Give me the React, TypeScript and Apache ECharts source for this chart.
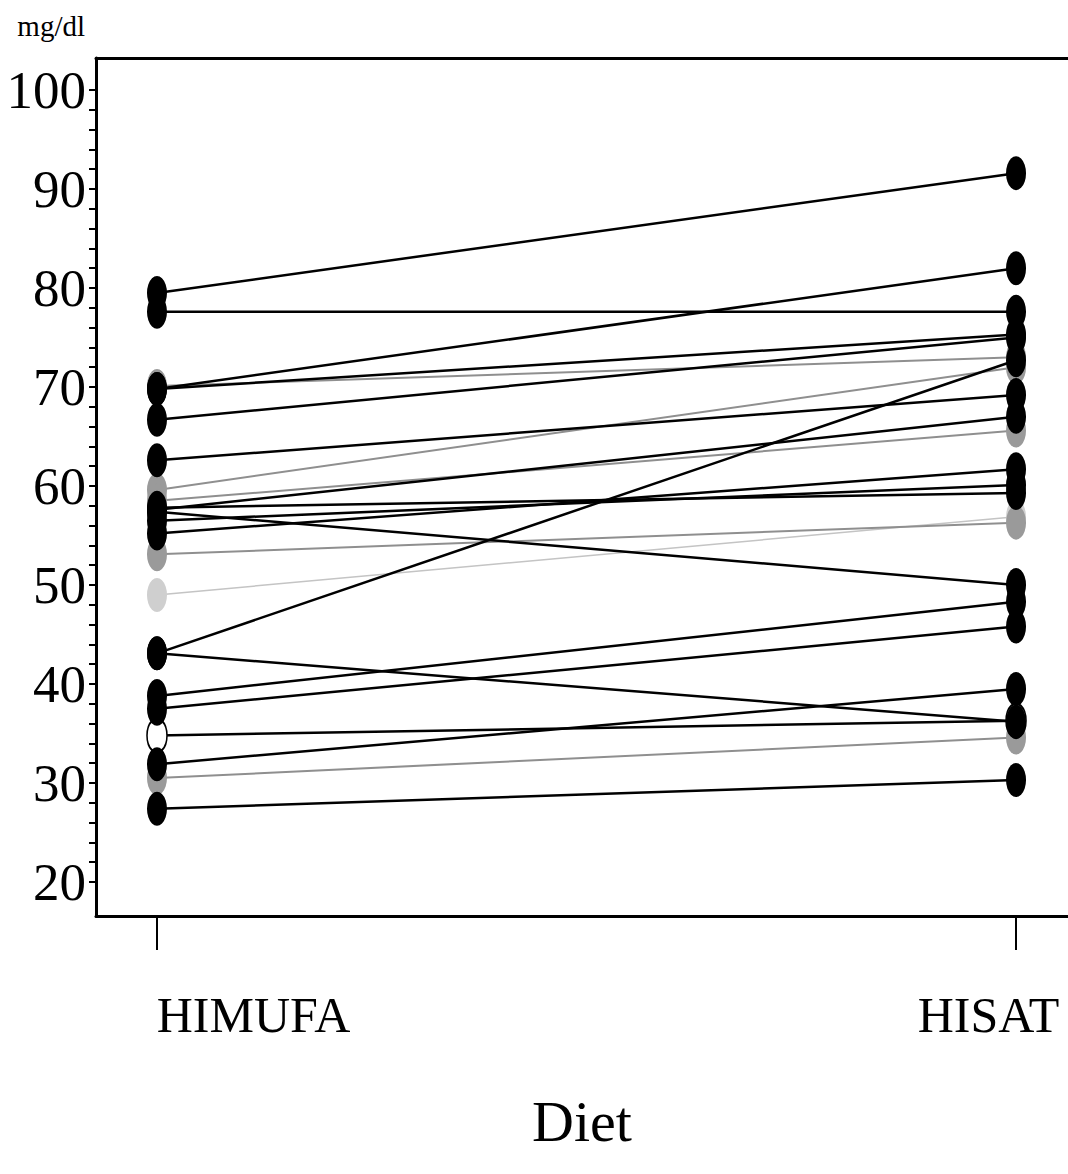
import React, { useEffect, useRef } from "react";
import * as echarts from "echarts";

const categories = ["HIMUFA", "HISAT"];
// value on HIMUFA diet, value on HISAT diet, shade of each subject's line
const himufa = [79.5, 77.6, 69.8, 69.8, 70.1, 66.7, 62.6, 59.6, 57.6, 58.5, 55.2, 56.5, 57.8, 57.4, 53.1, 49.0, 43.1, 43.1, 38.8, 37.5, 34.8, 31.9, 30.5, 27.4];
const hisat = [91.6, 77.6, 82.0, 75.3, 73.0, 75.0, 69.2, 72.0, 67.0, 65.6, 61.7, 60.1, 59.3, 50.0, 56.3, 56.9, 72.7, 36.2, 48.3, 45.8, 36.3, 39.5, 34.6, 30.3];
const shades = ["black", "black", "black", "black", "gray", "black", "black", "gray", "black", "gray", "black", "black", "black", "black", "gray", "light", "black", "black", "black", "black", "white", "black", "gray", "black"];
const yLabels = [20, 30, 40, 50, 60, 70, 80, 90, 100];
const yTicks = [20, 22, 24, 26, 28, 30, 32, 34, 36, 38, 40, 42, 44, 46, 48, 50, 52, 54, 56, 58, 60, 62, 64, 66, 68, 70, 72, 74, 76, 78, 80, 82, 84, 86, 88, 90, 92, 94, 96, 98, 100];

const FONT = "'Liberation Serif', 'Times New Roman', serif";

const shadeStyle: Record<string, { line: string; fill: string; border: string; width: number }> = {
  black: { line: "#000000", fill: "#000000", border: "#000000", width: 2.5 },
  gray: { line: "#8f8f8f", fill: "#9a9a9a", border: "#9a9a9a", width: 2 },
  light: { line: "#c4c4c4", fill: "#cfcfcf", border: "#cfcfcf", width: 1.5 },
  white: { line: "#000000", fill: "#ffffff", border: "#000000", width: 2.5 },
};

export default function App() {
  const ref = useRef<HTMLDivElement>(null);
  useEffect(() => {
    if (!ref.current) return;
    const chart = echarts.init(ref.current, null, { renderer: "svg" });
    const order = himufa.map((_, i) => i).sort((a, b) => {
      const rank = (s: string) => (s === "light" ? 0 : s === "gray" ? 1 : 2);
      return rank(shades[a]) - rank(shades[b]);
    });
    const series = order.map((i) => {
      const st = shadeStyle[shades[i]];
      return {
        type: "line",
        data: [
          [0, himufa[i]],
          [1, hisat[i]],
        ],
        symbol: "circle",
        symbolSize: [20, 34],
        showSymbol: true,
        lineStyle: { color: st.line, width: st.width },
        itemStyle: { color: st.fill, borderColor: st.border, borderWidth: shades[i] === "white" ? 2 : 0 },
        emphasis: { disabled: true },
        silent: true,
        z: shades[i] === "black" ? 3 : 2,
      };
    });
    chart.setOption({
      animation: false,
      backgroundColor: "#ffffff",
      grid: { left: 96, top: 58, right: 0, bottom: 258 },
      xAxis: [
        {
          type: "value",
          min: -0.071,
          max: 1.0605,
          position: "bottom",
          splitLine: { show: false },
          axisLine: { show: true, onZero: false, lineStyle: { color: "#000", width: 3 } },
          axisTick: { show: true, customValues: [0, 1], length: 34, inside: false, lineStyle: { color: "#000", width: 2 } },
          axisLabel: {
            show: true,
            customValues: [0, 1],
            margin: 74,
            formatter: (v: number) => (v === 0 ? `{a|${categories[0]}}` : `{b|${categories[1]}}`),
            rich: {
              a: { fontFamily: FONT, fontSize: 50, color: "#000", padding: [0, 0, 0, 193] },
              b: { fontFamily: FONT, fontSize: 50, color: "#000", padding: [0, 55, 0, 0] },
            },
          },
          name: "Diet",
          nameLocation: "middle",
          nameGap: 176,
          nameTextStyle: { fontFamily: FONT, fontSize: 58, color: "#000" },
        },
        {
          type: "value",
          min: -0.071,
          max: 1.0605,
          position: "top",
          splitLine: { show: false },
          axisLine: { show: true, onZero: false, lineStyle: { color: "#000", width: 3 } },
          axisTick: { show: false },
          axisLabel: { show: false },
        },
      ],
      yAxis: {
        type: "value",
        min: 16.57,
        max: 103.23,
        splitLine: { show: false },
        axisLine: { show: true, onZero: false, lineStyle: { color: "#000", width: 3 } },
        axisTick: { show: true, customValues: yTicks, length: 7, inside: false, lineStyle: { color: "#000", width: 2 } },
        axisLabel: {
          customValues: yLabels,
          margin: 10,
          fontFamily: FONT,
          fontSize: 53,
          color: "#000",
        },
        name: "mg/dl",
        nameLocation: "end",
        nameGap: 18,
        nameTextStyle: { fontFamily: FONT, fontSize: 29, color: "#000", align: "right", padding: [0, 11, 0, 0] },
      },
      series,
    });
    return () => chart.dispose();
  }, []);
  return (
    <div
      ref={ref}
      style={{ position: "absolute", left: 0, top: 0, width: 1068, height: 1174, background: "#fff" }}
    />
  );
}
